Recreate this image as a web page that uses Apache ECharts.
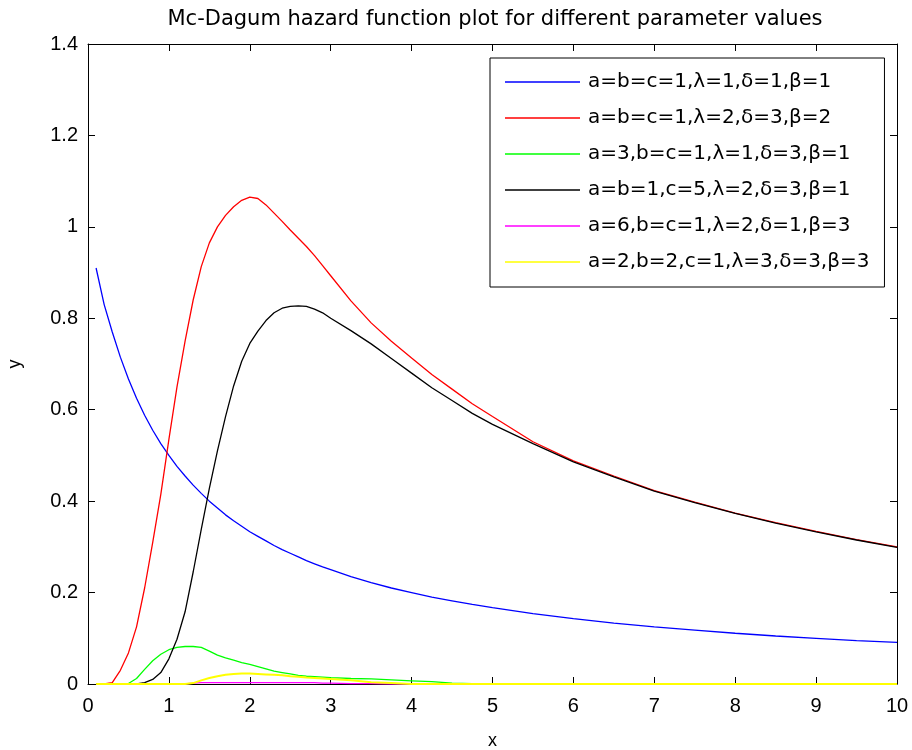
<!DOCTYPE html>
<html>
<head>
<meta charset="utf-8">
<title>Mc-Dagum hazard function plot</title>
<script src="https://cdn.jsdelivr.net/npm/echarts@6/dist/echarts.min.js"></script>
<style>
  html, body { margin: 0; padding: 0; background: #fff; }
  #chart { width: 912px; height: 750px; }
</style>
</head>
<body>
<div id="chart"></div>
<script>
// x positions
var xValues = [
  0.1, 0.2, 0.3, 0.4, 0.5, 0.6, 0.7, 0.8, 0.9, 1.0,
  1.1, 1.2, 1.3, 1.4, 1.5, 1.6, 1.7, 1.8, 1.9, 2.0,
  2.1, 2.2, 2.3, 2.4, 2.5, 2.6, 2.7, 2.8, 2.9, 3.0,
  3.25, 3.5, 3.75, 4.0, 4.25, 4.5, 4.75, 5.0,
  5.5, 6.0, 6.5, 7.0, 7.5, 8.0, 8.5, 9.0, 9.5, 10.0
]

// a=b=c=1,λ=1,δ=1,β=1
var blueY = [
  0.91, 0.83, 0.77, 0.715, 0.667, 0.625, 0.588, 0.555, 0.526, 0.50,
  0.476, 0.455, 0.435, 0.417, 0.40, 0.385, 0.37, 0.357, 0.345, 0.333,
  0.323, 0.313, 0.303, 0.294, 0.286, 0.278, 0.27, 0.263, 0.256, 0.25,
  0.235, 0.222, 0.21, 0.20, 0.19, 0.182, 0.174, 0.167,
  0.154, 0.143, 0.133, 0.125, 0.118, 0.111, 0.105, 0.10, 0.095, 0.091
]
// a=b=c=1,λ=2,δ=3,β=2
var redY = [
  0, 0, 0.003, 0.03, 0.068, 0.125, 0.21, 0.31, 0.415, 0.535,
  0.65, 0.75, 0.84, 0.913, 0.965, 1.0, 1.025, 1.044, 1.058, 1.065,
  1.062, 1.048, 1.03, 1.012, 0.993, 0.975, 0.957, 0.937, 0.915, 0.893,
  0.838, 0.79, 0.75, 0.713, 0.677, 0.645, 0.613, 0.585,
  0.53, 0.488, 0.455, 0.423, 0.398, 0.374, 0.353, 0.334, 0.316, 0.30
]
// a=3,b=c=1,λ=1,δ=3,β=1
var greenY = [
  0, 0, 0, 0, 0.001, 0.012, 0.032, 0.051, 0.065, 0.075,
  0.08, 0.082, 0.082, 0.08, 0.072, 0.063, 0.057, 0.052, 0.047, 0.043,
  0.038, 0.033, 0.028, 0.025, 0.022, 0.019, 0.017, 0.016, 0.015, 0.014,
  0.012, 0.011, 0.009, 0.007, 0.005, 0.002, 0.001, 0.001,
  0, 0, 0, 0, 0, 0, 0, 0, 0, 0
]
// a=b=1,c=5,λ=2,δ=3,β=1
var blackY = [
  0, 0, 0, 0, 0, 0, 0.003, 0.01, 0.025, 0.055,
  0.098, 0.158, 0.245, 0.338, 0.428, 0.51, 0.585, 0.652, 0.706, 0.745,
  0.772, 0.795, 0.812, 0.822, 0.826, 0.827, 0.826, 0.82, 0.812, 0.80,
  0.773, 0.744, 0.712, 0.68, 0.648, 0.62, 0.592, 0.568,
  0.526, 0.486, 0.453, 0.422, 0.397, 0.373, 0.352, 0.333, 0.315, 0.299
]
// a=6,b=c=1,λ=2,δ=1,β=3
var magentaY = [
  0, 0, 0, 0, 0, 0, 0, 0, 0, 0,
  0, 0, 0.002, 0.003, 0.003, 0.003, 0.003, 0.003, 0.003, 0.003,
  0.003, 0.003, 0.003, 0.003, 0.003, 0.003, 0.003, 0.003, 0.002, 0.002,
  0.001, 0.001, 0, 0, 0, 0, 0, 0,
  0, 0, 0, 0, 0, 0, 0, 0, 0, 0
]
// a=2,b=2,c=1,λ=3,δ=3,β=3
var yellowY = [
  0, 0, 0, 0, 0, 0, 0, 0, 0, 0,
  0, 0, 0.002, 0.008, 0.013, 0.017, 0.02, 0.022, 0.023, 0.023,
  0.022, 0.021, 0.02, 0.019, 0.017, 0.016, 0.014, 0.013, 0.012, 0.011,
  0.008, 0.004, 0.002, 0, 0, 0, 0, 0,
  0, 0, 0, 0, 0, 0, 0, 0, 0, 0
]

var seriesNames = [
  'a=b=c=1,λ=1,δ=1,β=1',
  'a=b=c=1,λ=2,δ=3,β=2',
  'a=3,b=c=1,λ=1,δ=3,β=1',
  'a=b=1,c=5,λ=2,δ=3,β=1',
  'a=6,b=c=1,λ=2,δ=1,β=3',
  'a=2,b=2,c=1,λ=3,δ=3,β=3'
]
var seriesColors = ['#0000ff', '#ff0000', '#00ff00', '#000000', '#ff00ff', '#ffff00']
var seriesValues = [blueY, redY, greenY, blackY, magentaY, yellowY]

var xTicks = { min: 0, max: 10, interval: 1 }
var yTicks = { min: 0, max: 1.4, interval: 0.2 }

function pairs(ys) {
  return xValues.map(function (x, i) { return [x, ys[i]] })
}

var chart = echarts.init(document.getElementById('chart'))

var tickFont = { color: '#000', fontSize: 20, fontFamily: 'Liberation Sans, Arial, sans-serif' }
var lineBlack = { show: true, onZero: false, lineStyle: { color: '#000', width: 1 } }
var tickIn = { show: true, inside: true, length: 7, lineStyle: { color: '#000', width: 1 } }

var option = {
  backgroundColor: '#fff',
  animation: false,
  title: {
    text: 'Mc-Dagum hazard function plot for different parameter values',
    left: 490,
    textAlign: 'center',
    top: 4,
    textStyle: { color: '#000', fontWeight: 'normal', fontSize: 21, fontFamily: 'DejaVu Sans, sans-serif' }
  },
  legend: {
    orient: 'vertical',
    left: 490,
    top: 58,
    padding: [13, 15, 14, 15],
    icon: 'rect',
    itemWidth: 75,
    itemHeight: 1.4,
    itemGap: 14,
    backgroundColor: '#fff',
    borderColor: '#000',
    borderWidth: 1,
    borderRadius: 0,
    textStyle: { color: '#000', fontSize: 20, lineHeight: 22, fontFamily: 'DejaVu Sans, sans-serif', padding: [0, 0, 0, 3] },
    data: seriesNames
  },
  grid: { left: 88, right: 15, top: 44, bottom: 66, containLabel: false, outerBoundsMode: 'none' },
  xAxis: [
    {
      type: 'value', min: xTicks.min, max: xTicks.max, interval: xTicks.interval,
      name: 'x', nameLocation: 'middle', nameGap: 48,
      nameTextStyle: { color: '#000', fontSize: 18, fontFamily: 'Liberation Sans, Arial, sans-serif' },
      axisLine: lineBlack, axisTick: tickIn,
      axisLabel: Object.assign({ margin: 12 }, tickFont),
      splitLine: { show: false }
    },
    {
      type: 'value', position: 'top', min: xTicks.min, max: xTicks.max, interval: xTicks.interval,
      axisLine: lineBlack, axisTick: tickIn, axisLabel: { show: false }, splitLine: { show: false }
    }
  ],
  yAxis: [
    {
      type: 'value', min: yTicks.min, max: yTicks.max, interval: yTicks.interval,
      name: 'y', nameLocation: 'middle', nameGap: 64,
      nameTextStyle: { color: '#000', fontSize: 18, fontFamily: 'Liberation Sans, Arial, sans-serif' },
      axisLine: lineBlack, axisTick: tickIn,
      axisLabel: Object.assign({ margin: 10 }, tickFont),
      splitLine: { show: false }
    },
    {
      type: 'value', position: 'right', min: yTicks.min, max: yTicks.max, interval: yTicks.interval,
      axisLine: lineBlack, axisTick: tickIn, axisLabel: { show: false }, splitLine: { show: false }
    }
  ],
  series: seriesNames.map(function (name, i) {
    return {
      name: name,
      type: 'line',
      data: pairs(seriesValues[i]),
      symbol: 'none',
      showSymbol: false,
      smooth: false,
      color: seriesColors[i],
      lineStyle: { color: seriesColors[i], width: i === 5 ? 2 : 1.3 },
      z: 2 + i
    }
  })
}

chart.setOption(option)
</script>
</body>
</html>
